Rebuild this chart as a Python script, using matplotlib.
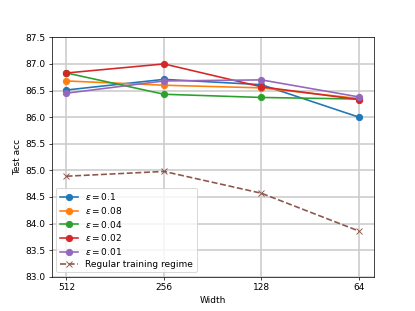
import matplotlib
matplotlib.use("Agg")
import matplotlib.pyplot as plt

# data
widths = ["512", "256", "128", "64"]
eps_labels = [r"$\epsilon = 0.1$", r"$\epsilon = 0.08$", r"$\epsilon = 0.04$",
              r"$\epsilon = 0.02$", r"$\epsilon = 0.01$"]
acc_01 = [86.51, 86.71, 86.61, 86.00]
acc_008 = [86.68, 86.60, 86.55, 86.35]
acc_004 = [86.83, 86.43, 86.37, 86.34]
acc_002 = [86.83, 87.00, 86.57, 86.33]
acc_001 = [86.45, 86.68, 86.70, 86.38]
regular = [84.89, 84.98, 84.57, 83.86]

fig, ax = plt.subplots(figsize=(415 / 65, 311 / 65), dpi=65)

for acc, lab in zip([acc_01, acc_008, acc_004, acc_002, acc_001], eps_labels):
    ax.plot(widths, acc, marker="o", markersize=7, linewidth=1.8, label=lab)
ax.plot(widths, regular, "--", marker="x", markersize=7, linewidth=1.8,
        color="tab:brown", label="Regular training regime")

ax.set_ylim(83.0, 87.5)
ax.set_yticks([83.0 + 0.5 * i for i in range(10)])
ax.grid(True, color="#cccccc", linewidth=1.8)
ax.set_xlabel("Width")
ax.set_ylabel("Test acc")
ax.legend(loc="lower left", labelspacing=0.3)

fig.savefig("out.png", dpi=65)
